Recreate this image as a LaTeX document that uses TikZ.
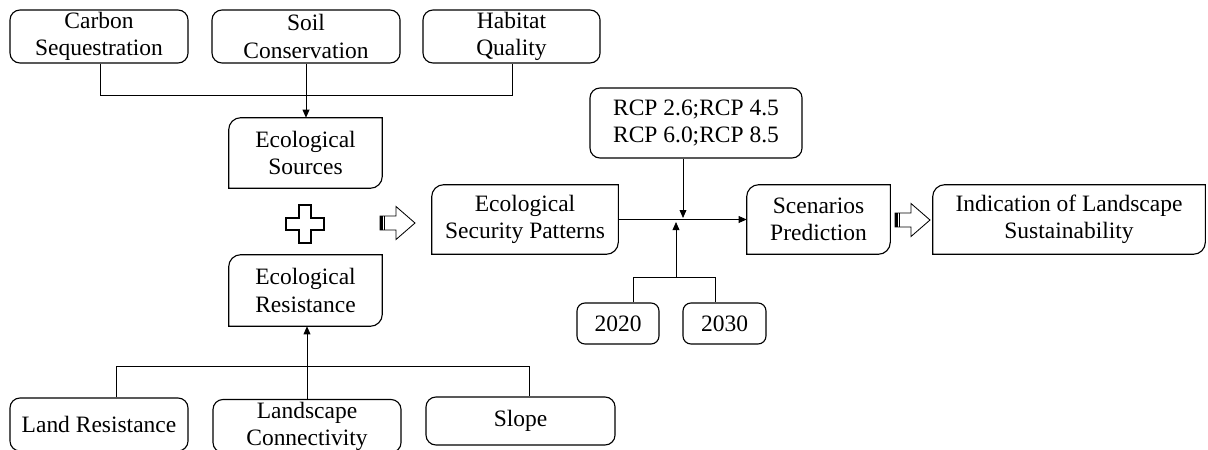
\documentclass[tikz,border=0pt]{standalone}
\usepackage{fontspec}
\setmainfont{Liberation Serif}
\usetikzlibrary{arrows.meta,calc}

\newcommand\boxfont{\fontsize{16.7}{19.3}\selectfont}
% frame with rounded top-left and bottom-right corners
\newcommand\diagframe[1]{%
  \draw[line width=0.8pt] ($(#1.north west)+(0cm,-0.3cm)$) arc[start angle=180,end angle=90,radius=0.3cm]
    -- (#1.north east) -- ($(#1.south east)+(0cm,0.3cm)$) arc[start angle=0,end angle=-90,radius=0.3cm]
    -- (#1.south west) -- cycle;}
% hollow block arrow with a dark tail
\newcommand\blockarrow[2]{%
  \begin{scope}[shift={(#1,#2)}]
    \draw[line width=0.6pt,fill=white] (0,-7) -- (16,-7) -- (16,-16.5) -- (35,0) -- (16,16.5) -- (16,7) -- (0,7) -- cycle;
    \fill (0,-7) rectangle (3,7);
    \draw[line width=0.5pt] (4.5,-7) -- (4.5,7);
  \end{scope}}

\tikzset{
  box/.style={draw, line width=0.8pt, rounded corners=0.25cm, align=center, inner sep=0pt, font=\boxfont},
  procbox/.style={align=center, inner sep=0pt, font=\boxfont},
  line/.style={line width=0.6pt},
  link/.style={line width=0.6pt, -{Triangle[length=0.2cm,width=0.17cm]}}
}

\begin{document}
\begin{tikzpicture}[x=0.025cm,y=-0.025cm]
  \useasboundingbox (0,0) rectangle (1208,449);
  % top row
  \node[box, minimum width=4.45cm, minimum height=1.325cm] (carbon) at (99,36.5) {Carbon\\Sequestration};
  \node[box, minimum width=4.7cm, minimum height=1.325cm] (soil) at (306,36.5) {Soil\\Conservation};
  \node[box, minimum width=4.425cm, minimum height=1.325cm] (habitat) at (511.5,36.5) {Habitat\\Quality};
  % sources and resistance
  \node[procbox, minimum width=3.825cm, minimum height=1.75cm] (sources) at (305.5,153) {Ecological\\Sources};
  \diagframe{sources}
  \node[procbox, minimum width=3.825cm, minimum height=1.775cm] (resist) at (305.5,290.5) {Ecological\\Resistance};
  \diagframe{resist}
  \draw[line width=0.8pt] (299,205) -- (311,205) -- (311,218) -- (324,218) -- (324,230) -- (311,230)
    -- (311,243) -- (299,243) -- (299,230) -- (286,230) -- (286,218) -- (299,218) -- cycle;
  % bottom row
  \node[box, minimum width=4.45cm, minimum height=1.325cm] (landres) at (99,424.5) {Land Resistance};
  \node[box, minimum width=4.7cm, minimum height=1.325cm] (conn) at (307,426) {Landscape\\Connectivity};
  \node[box, minimum width=4.725cm, minimum height=1.2cm] (slope) at (520.5,421) {Slope};
  % middle row
  \blockarrow{380}{223}
  \node[procbox, minimum width=4.65cm, minimum height=1.725cm] (esp) at (525,219.5) {Ecological\\Security Patterns};
  \diagframe{esp}
  \node[box, minimum width=5.3cm, minimum height=1.75cm] (rcp) at (696,123) {RCP 2.6;RCP 4.5\\RCP 6.0;RCP 8.5};
  \node[procbox, minimum width=3.575cm, minimum height=1.725cm] (scen) at (818.5,219.5) {Scenarios\\Prediction};
  \diagframe{scen}
  \blockarrow{895}{220}
  \node[procbox, minimum width=6.8cm, minimum height=1.725cm] (indic) at (1069,219.5) {Indication of Landscape\\Sustainability};
  \diagframe{indic}
  \node[box, rounded corners=0.2cm, minimum width=2.05cm, minimum height=1.025cm] (y2020) at (618,323.5) {2020};
  \node[box, rounded corners=0.2cm, minimum width=2.075cm, minimum height=1.025cm] (y2030) at (724.5,323.5) {2030};

  % connectors
  \coordinate (csj) at (100,95);
  \coordinate (hqj) at (512,95);
  \draw[line] (carbon.south -| csj) -- (csj) -- (hqj) -- (habitat.south -| hqj);
  \draw[link] (soil.south) -- (soil.south |- sources.north);
  \coordinate (lrj) at (116,366);
  \coordinate (slj) at (529,366);
  \draw[line] (landres.north -| lrj) -- (lrj) -- (slj) -- (slope.north -| slj);
  \draw[link] (conn.north) -- (conn.north |- resist.south);
  \draw[link] (esp.east) -- (esp.east -| scen.west);
  \coordinate (rcpin) at (683,218);
  \draw[link] (rcp.south -| rcpin) -- (rcpin);
  \coordinate (yrin) at (676,222);
  \coordinate (yrj) at (676,277);
  \coordinate (y20) at (633,277);
  \coordinate (y30) at (715,277);
  \draw[line] (y2020.north -| y20) -- (y20) -- (y30) -- (y2030.north -| y30);
  \draw[link] (yrj) -- (yrin);
\end{tikzpicture}
\end{document}
